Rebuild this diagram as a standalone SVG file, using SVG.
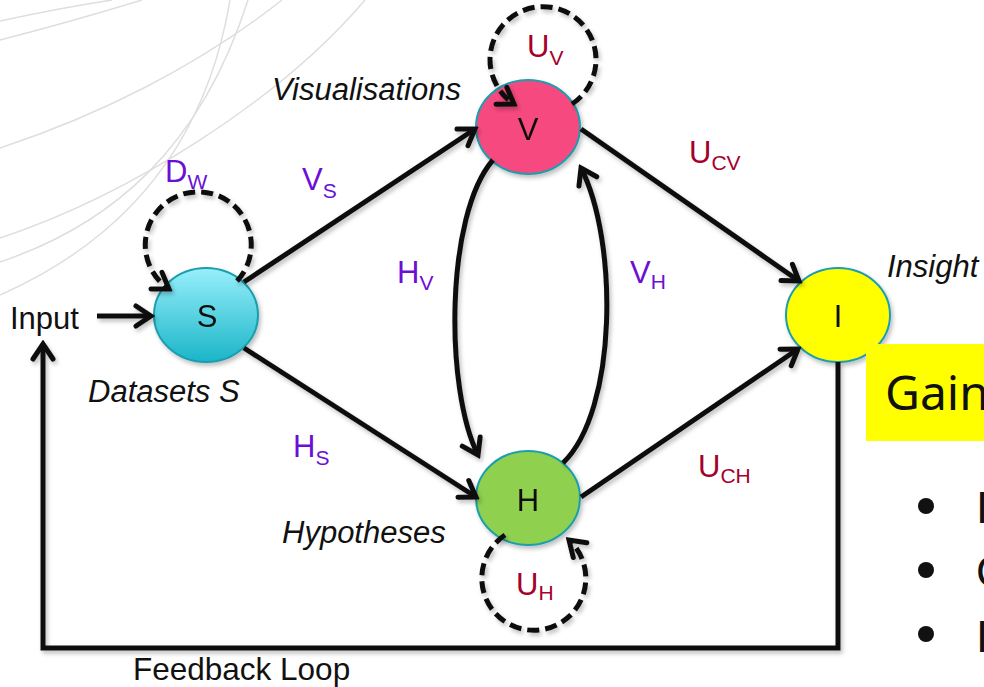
<svg xmlns="http://www.w3.org/2000/svg" width="984" height="687" viewBox="0 0 984 687">
<style>
  .t { font-family: "Liberation Sans", Arial, sans-serif; font-size: 31px; fill: #111; }
  .it { font-style: italic; }
  .sub { font-size: 21px; }
  .pu { fill: #6c0fd6; }
  .cr { fill: #a6002c; }
  .node { stroke: #1a9eae; stroke-width: 2; }
  .edge { fill: none; stroke: #111; stroke-width: 5; marker-end: url(#arr); }
  .dash { stroke-dasharray: 12 6; }
  .bg { fill: none; stroke: #dedede; stroke-width: 1.5; }
  .side { font-family: "Liberation Sans", Arial, sans-serif; font-size: 44px; fill: #111; }
</style>
<defs>
  <linearGradient id="gS" x1="0" y1="0" x2="0" y2="1">
    <stop offset="0" stop-color="#98effb"/>
    <stop offset="1" stop-color="#1ab5c8"/>
  </linearGradient>
  <filter id="sh" x="-20%" y="-20%" width="140%" height="140%">
    <feDropShadow dx="2" dy="3" stdDeviation="2" flood-color="#000" flood-opacity="0.25"/>
  </filter>
  <marker id="arr" markerUnits="userSpaceOnUse" viewBox="-20 -14 24 28" refX="0" refY="0" markerWidth="24" markerHeight="28" orient="auto">
    <path d="M-15,-10 L0,0 L-15,10" fill="none" stroke="#111" stroke-width="5" stroke-linecap="round" stroke-linejoin="miter"/>
  </marker>
</defs>
<rect width="984" height="687" fill="#fff"/>
<g id="background">
  <path class="bg" d="M0,21 Q60,8 112,0"/>
  <path class="bg" d="M0,40 Q70,22 142,0"/>
  <path class="bg" d="M0,148 C100,115 200,65 282,0"/>
  <path class="bg" d="M0,238 C130,195 280,100 365,0"/>
  <path class="bg" d="M0,262 C110,225 200,150 248,0"/>
  <path class="bg" d="M230,0 C215,90 170,220 0,295"/>
</g>
<g id="node-S" filter="url(#sh)">
  <ellipse class="node" cx="206" cy="315" rx="52" ry="47" fill="url(#gS)"/>
  <text class="t" x="207" y="327" text-anchor="middle">S</text>
</g>
<g id="node-V" filter="url(#sh)">
  <ellipse class="node" cx="528" cy="127" rx="52" ry="47" fill="#f64a80"/>
  <text class="t" x="528" y="140" text-anchor="middle">V</text>
</g>
<g id="node-H" filter="url(#sh)">
  <ellipse class="node" cx="528" cy="498" rx="52" ry="47" fill="#8fd04f"/>
  <text class="t" x="528" y="511" text-anchor="middle">H</text>
</g>
<g id="node-I" filter="url(#sh)">
  <ellipse class="node" cx="838" cy="315" rx="52" ry="47" fill="#ffff00"/>
  <text class="t" x="838" y="327" text-anchor="middle">I</text>
</g>
<g id="connectors" filter="url(#sh)">
  <path class="edge" d="M97,316 L151,316"/>
  <path class="edge" d="M244,282 L475,129"/>
  <path class="edge" d="M244,348 L476,497"/>
  <path class="edge" d="M581,129 L799,281"/>
  <path class="edge" d="M581,497 L798,349"/>
  <path class="edge" d="M493,160 C445,215 445,390 478,455"/>
  <path class="edge" d="M563,463 C618,410 618,240 581,168"/>
  <path class="edge" d="M838,362 L838,648 L43,648 L43,344" stroke-linejoin="miter"/>
  <path class="edge dash" d="M237,281 A53,53 0 1 0 169,289"/>
  <path class="edge dash" d="M572,104 A53,53 0 1 0 514,104"/>
  <path class="edge dash" d="M505,535 A52,52 0 1 0 569,540"/>
</g>
<g id="edge-labels">
  <text class="t pu" x="165" y="182">D<tspan class="sub" dy="7">W</tspan></text>
  <text class="t pu" x="302" y="190">V<tspan class="sub" dy="8">S</tspan></text>
  <text class="t pu" x="397" y="283">H<tspan class="sub" dy="7">V</tspan></text>
  <text class="t pu" x="630" y="283">V<tspan class="sub" dy="6">H</tspan></text>
  <text class="t pu" x="293" y="457">H<tspan class="sub" dy="8">S</tspan></text>
  <text class="t cr" x="527" y="57">U<tspan class="sub" dy="8">V</tspan></text>
  <text class="t cr" x="689" y="163">U<tspan class="sub" dy="7">CV</tspan></text>
  <text class="t cr" x="698" y="477">U<tspan class="sub" dy="6">CH</tspan></text>
  <text class="t cr" x="516" y="595">U<tspan class="sub" dy="5">H</tspan></text>
</g>
<g id="captions">
  <text class="t" x="10" y="329">Input</text>
  <text class="t it" x="272" y="100">Visualisations</text>
  <text class="t it" x="88" y="402">Datasets S</text>
  <text class="t it" x="282" y="543">Hypotheses</text>
  <text class="t it" x="887" y="277">Insight</text>
  <text class="t" x="133" y="680" style="font-size:31.5px">Feedback Loop</text>
</g>
<g id="side-panel">
  <rect x="866" y="344" width="130" height="97" fill="#ffff00"/>
  <text x="885" y="410" font-family="'Noto Sans', 'Open Sans', sans-serif" font-size="48" fill="#111">Gain</text>
  <circle cx="926" cy="506" r="8" fill="#111"/>
  <circle cx="926" cy="570" r="8" fill="#111"/>
  <circle cx="926" cy="634" r="8" fill="#111"/>
  <text class="side" x="976" y="523">I</text>
  <text class="side" x="976" y="587">C</text>
  <text class="side" x="976" y="652">I</text>
</g>
</svg>
